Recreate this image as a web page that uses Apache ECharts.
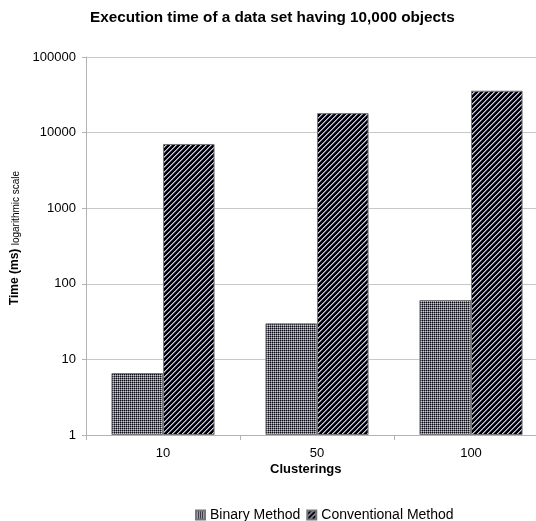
<!DOCTYPE html>
<html>
<head>
<meta charset="utf-8">
<script src="https://cdn.jsdelivr.net/npm/echarts@6/dist/echarts.min.js"></script>
<style>html,body{margin:0;padding:0;background:#fff;overflow:hidden}#c{width:548px;height:521px}</style>
</head>
<body>
<div id="c"></div>
<script>
const categories = ['10', '50', '100'];
const binaryMethod = [6.6, 30, 61];
const conventionalMethod = [7070, 18100, 35800];
const seriesNames = ['Binary Method', 'Conventional Method'];

function makePattern(w, h, fn) {
  const cv = document.createElement('canvas');
  cv.width = w; cv.height = h;
  const ctx = cv.getContext('2d');
  const img = ctx.createImageData(w, h);
  for (let y = 0; y < h; y++) for (let x = 0; x < w; x++) {
    const c = fn(x, y); const i = (y * w + x) * 4;
    img.data[i] = c[0]; img.data[i+1] = c[1]; img.data[i+2] = c[2]; img.data[i+3] = 255;
  }
  ctx.putImageData(img, 0, 0);
  return { image: cv, repeat: 'repeat' };
}
const checker = makePattern(2, 2, (x, y) => {
  if (x === 0 && y === 0) return [10, 10, 20];
  if (x === 1 && y === 1) return [200, 200, 222];
  return [110, 110, 135];
});
const hatch = makePattern(5, 5, (x, y) => {
  const k = (x + y) % 5;
  if (k === 0) return [205, 205, 235];
  if (k === 1) return [120, 120, 150];
  return [0, 0, 0];
});

const chart = echarts.init(document.getElementById('c'));
chart.setOption({
  animation: false,
  textStyle: { fontFamily: 'Liberation Sans, Arial, sans-serif' },
  title: {
    text: 'Execution time of a data set having 10,000 objects',
    left: 85, top: 5,
    textStyle: { fontSize: 15.3, fontWeight: 'bold', color: '#000', fontFamily: 'Liberation Sans' }
  },
  legend: {
    left: 190, top: 503, itemWidth: 9, itemHeight: 9, itemGap: 6,
    icon: 'rect',
    textStyle: { fontSize: 14, color: '#000' },
    data: seriesNames
  },
  grid: { left: 86, right: 0, top: 57, bottom: 86, containLabel: false },
  xAxis: {
    type: 'category', data: categories,
    axisLine: { lineStyle: { color: '#b3b3b3' } },
    axisTick: { show: true, length: 5, lineStyle: { color: '#b3b3b3' } },
    axisLabel: { fontSize: 13, color: '#000', margin: 12 }
  },
  yAxis: {
    type: 'log', logBase: 10, min: 1, max: 100000,
    name: '{a|Time (ms)} {b|logarithmic scale}',
    nameLocation: 'middle', nameRotate: 90, nameGap: 59,
    nameTextStyle: {
      rich: {
        a: { fontSize: 12, fontWeight: 'bold', color: '#000', fontFamily: 'Liberation Sans', padding: [0, 0, 0, 16] },
        b: { fontSize: 10, color: '#000', fontFamily: 'Liberation Sans', padding: [4, 0, 0, 0] }
      }
    },
    axisLine: { show: true, lineStyle: { color: '#b3b3b3' } },
    axisTick: { show: true, length: 4, lineStyle: { color: '#b3b3b3' } },
    minorTick: { show: false },
    splitLine: { show: true, lineStyle: { color: '#c8c8c8' } },
    axisLabel: { fontSize: 13, color: '#000', margin: 10, formatter: v => String(Math.round(v)) }
  },
  graphic: [{
    type: 'text', left: 270, top: 463,
    style: { text: 'Clusterings', fontSize: 13, fontWeight: 'bold', fill: '#000', fontFamily: 'Liberation Sans' }
  }],
  series: [
    {
      name: seriesNames[0], type: 'bar', data: binaryMethod,
      barGap: '0%', barCategoryGap: '33%',
      itemStyle: { color: checker, borderColor: '#777', borderWidth: 1 }
    },
    {
      name: seriesNames[1], type: 'bar', data: conventionalMethod,
      barGap: '0%', barCategoryGap: '33%',
      itemStyle: { color: hatch, borderColor: '#777', borderWidth: 1 }
    }
  ]
});
</script>
</body>
</html>
